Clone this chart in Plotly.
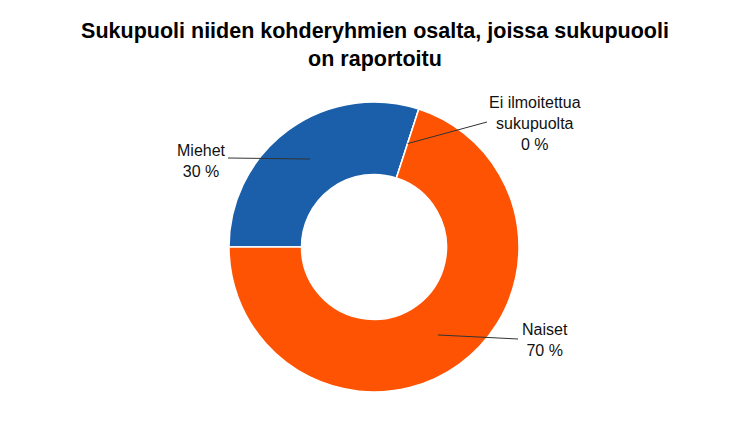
import math
import plotly.graph_objects as go

# ---- data ----
labels = ["Miehet", "Ei ilmoitettua sukupuolta", "Naiset"]
label_text = ["Miehet", "Ei ilmoitettua<br>sukupuolta", "Naiset"]
values = [30, 0, 70]
shown_pct = [30, 0, 70]
colors = ["#1b5eaa", "#fe5303", "#fe5303"]
title_text = "Sukupuoli niiden kohderyhmien osalta, joissa sukupuooli<br>on raportoitu"

# ---- layout constants (screen pixels; page body has an 8px margin) ----
OFF = 8
W, H = 750 - 2 * OFF, 436 - 2 * OFF
CX, CY, R = 374, 247, 145
HOLE = 0.5
ROT = -90
line_end = [(228, 158), (487, 122), (518, 339)]
text_pos = [(201, 161), (535, 123), (545, 340)]
TITLE_Y = 38

def px(x):
    return (x - OFF) / W

def py(y):
    return 1 - (y - OFF) / H

fig = go.Figure()
fig.add_trace(go.Pie(
    labels=labels,
    values=values,
    hole=HOLE,
    sort=False,
    direction="clockwise",
    rotation=ROT,
    textinfo="none",
    hoverinfo="label+percent",
    marker=dict(colors=colors, line=dict(color="white", width=1.5)),
    showlegend=False,
    domain=dict(x=[px(CX - R), px(CX + R)], y=[py(CY + R), py(CY - R)]),
))

total = sum(values)
rmid = R * (1 + HOLE) / 2
cum = 0
shapes = []
annotations = []
for i, v in enumerate(values):
    theta = math.radians(ROT + 360 * (cum + v / 2) / total)
    cum += v
    ax = CX + rmid * math.sin(theta)
    ay = CY - rmid * math.cos(theta)
    ex, ey = line_end[i]
    shapes.append(dict(type="line", xref="paper", yref="paper",
                       x0=px(ax), y0=py(ay), x1=px(ex), y1=py(ey),
                       line=dict(color="#333333", width=1)))
    tx, ty = text_pos[i]
    annotations.append(dict(
        x=px(tx), y=py(ty), xref="paper", yref="paper",
        text=f"{label_text[i]}<br>{shown_pct[i]} %",
        showarrow=False, xanchor="center", yanchor="middle", align="center",
        font=dict(family="Liberation Sans, Arial, sans-serif", size=16, color="#111111"),
    ))

fig.update_layout(
    width=W, height=H, autosize=False,
    margin=dict(l=0, r=0, t=0, b=0),
    paper_bgcolor="white", plot_bgcolor="white",
    title=dict(text=f"<b>{title_text}</b>", x=0.5, xanchor="center",
               y=py(TITLE_Y), yanchor="middle", yref="paper",
               font=dict(family="Liberation Sans, Arial, sans-serif", size=21.5, color="#000000")),
    shapes=shapes,
    annotations=annotations,
)

fig.write_html("out.html")
